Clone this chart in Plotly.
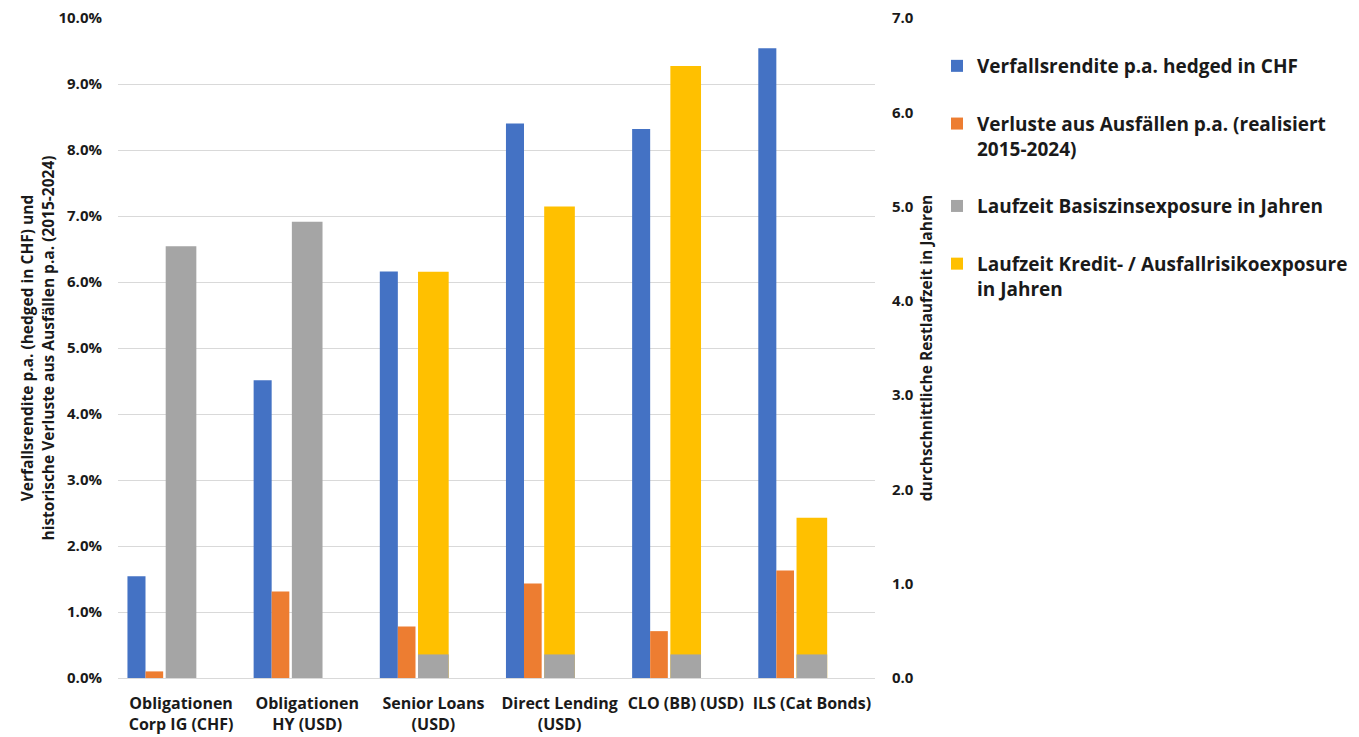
import plotly.graph_objects as go

categories = [
    "Obligationen<br>Corp IG (CHF)",
    "Obligationen<br>HY (USD)",
    "Senior Loans<br>(USD)",
    "Direct Lending<br>(USD)",
    "CLO (BB) (USD)",
    "ILS (Cat Bonds)",
]
yield_hedged = [1.54, 4.51, 6.16, 8.40, 8.32, 9.54]          # % p.a.
default_losses = [0.10, 1.31, 0.78, 1.43, 0.71, 1.63]        # % p.a.
duration_base = [4.58, 4.84, 0.25, 0.25, 0.25, 0.25]         # years
duration_credit = [None, None, 4.31, 5.00, 6.49, 1.70]       # years

left_ticks = [0, 1, 2, 3, 4, 5, 6, 7, 8, 9, 10]
right_ticks = [0, 1, 2, 3, 4, 5, 6, 7]

FONT = "Open Sans"
TXT = "#1a1a1a"

fig = go.Figure()
fig.add_trace(go.Bar(
    x=categories, y=yield_hedged, name="Verfallsrendite p.a. hedged in CHF",
    marker=dict(color="#4472C4", line=dict(width=0)), offset=-0.425, width=0.143,
    yaxis="y", legendgroup="g1", legendrank=1))
fig.add_trace(go.Bar(
    x=categories, y=default_losses,
    name="Verluste aus Ausfällen p.a. (realisiert<br>2015-2024)",
    marker=dict(color="#ED7D31", line=dict(width=0)), offset=-0.282, width=0.140,
    yaxis="y", legendgroup="g2", legendrank=2))
fig.add_trace(go.Bar(
    x=categories, y=duration_credit,
    name="Laufzeit Kredit- / Ausfallrisikoexposure<br>in Jahren",
    marker=dict(color="#FFC000", line=dict(width=0)), offset=-0.122, width=0.243,
    yaxis="y2", legendgroup="g4", legendrank=4))
fig.add_trace(go.Bar(
    x=categories, y=duration_base, name="Laufzeit Basiszinsexposure in Jahren",
    marker=dict(color="#A5A5A5", line=dict(width=0)), offset=-0.122, width=0.243,
    yaxis="y2", legendgroup="g3", legendrank=3))

fig.update_layout(
    width=1359, height=737,
    barmode="overlay",
    plot_bgcolor="white", paper_bgcolor="white",
    margin=dict(l=118, r=484, t=18, b=59, autoexpand=False),
    font=dict(family=FONT, size=16, color=TXT, weight="bold"),
    xaxis=dict(
        type="category", showgrid=False, showline=True, linecolor="#d9d9d9",
        linewidth=1, ticks="", ticklabelstandoff=11, automargin=False,
        tickfont=dict(size=16, family=FONT, weight="bold", color=TXT),
        range=[-0.5, 5.5],
    ),
    yaxis=dict(
        range=[0, 10], tickvals=left_ticks,
        ticktext=[f"{v:.1f}%" for v in left_ticks],
        showgrid=True, gridcolor="#d9d9d9", gridwidth=1, zeroline=False,
        ticks="", ticklabelstandoff=15, automargin=False,
        tickfont=dict(size=15, family=FONT, weight="bold", color=TXT),
        title=dict(
            text="Verfallsrendite p.a. (hedged in CHF) und<br>historische Verluste aus Ausfällen p.a. (2015-2024)",
            font=dict(size=15.5, family=FONT, weight="bold", color=TXT), standoff=0),
    ),
    yaxis2=dict(
        range=[0, 7], tickvals=right_ticks,
        ticktext=[f"{v:.1f}" for v in right_ticks],
        overlaying="y", side="right", showgrid=False, zeroline=False, ticks="",
        ticklabelstandoff=16, automargin=False,
        tickfont=dict(size=15, family=FONT, weight="bold", color=TXT),
        title=dict(text="durchschnittliche Restlaufzeit in Jahren",
                   font=dict(size=15.5, family=FONT, weight="bold", color=TXT), standoff=16),
    ),
    showlegend=True,
    legend=dict(
        xref="container", yref="container", x=937 / 1359, y=1 - 47 / 737,
        xanchor="left", yanchor="top", valign="top",
        font=dict(size=19, family=FONT, weight="bold", color=TXT),
        tracegroupgap=30, traceorder="grouped", bgcolor="rgba(0,0,0,0)",
    ),
)

fig.write_html("out.html")
